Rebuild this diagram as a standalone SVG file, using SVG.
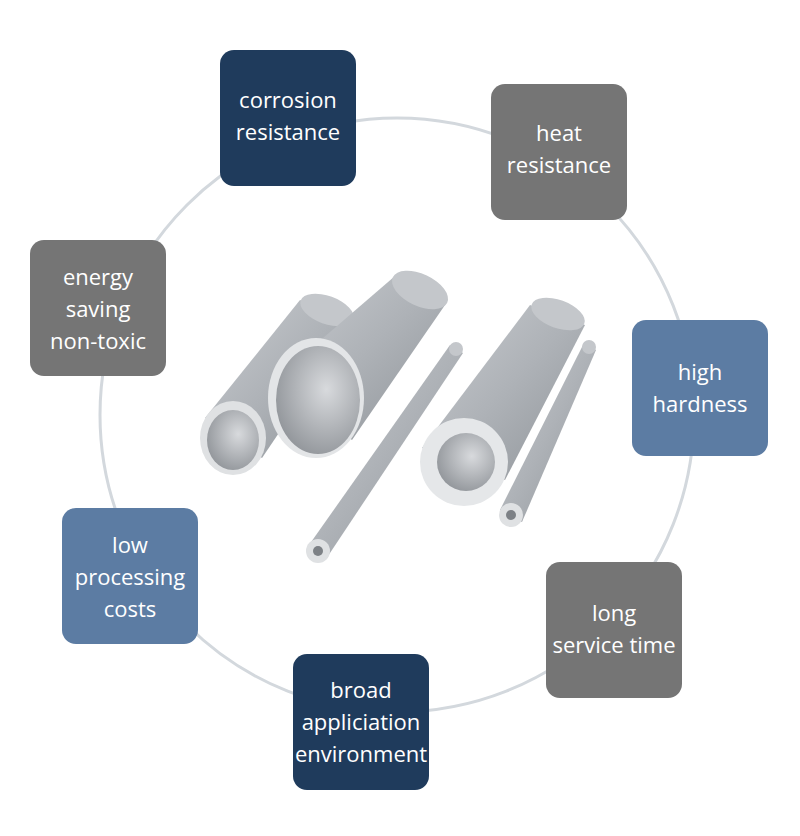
<svg xmlns="http://www.w3.org/2000/svg" width="800" height="836" viewBox="0 0 800 836">
<style>
.t{font-family:"Open Sans","Liberation Sans",sans-serif;font-size:22px;font-weight:500;fill:#fff;text-anchor:middle}
.navy{fill:#1f3b5c}.gray{fill:#757575}.blue{fill:#5c7ca3}
</style>
<defs>
<linearGradient id="body" x1="0" y1="0" x2="1" y2="1">
<stop offset="0" stop-color="#c9ccd0"/><stop offset="0.5" stop-color="#aeb2b7"/><stop offset="1" stop-color="#8e9398"/></linearGradient>
<radialGradient id="inner" cx="0.6" cy="0.4" r="0.7">
<stop offset="0" stop-color="#d8dadd"/><stop offset="1" stop-color="#8d9196"/></radialGradient>
</defs>
<rect width="800" height="836" fill="#fff"/>
<g id="connectors">
<circle cx="397" cy="415" r="297" fill="none" stroke="#d3d8dd" stroke-width="3"/>
</g>
<g id="pipes">
<polygon points="205,418 300,300 355,320 262,458" fill="url(#body)"/>
<ellipse cx="327" cy="310" rx="28" ry="14" transform="rotate(20 327 310)" fill="#c4c7cb"/>
<ellipse cx="233" cy="438" rx="33" ry="37" fill="#dfe1e3"/>
<ellipse cx="233" cy="440" rx="26" ry="30" fill="url(#inner)"/>
<polygon points="272,382 395,276 445,305 352,440" fill="url(#body)"/>
<ellipse cx="420" cy="290" rx="30" ry="16" transform="rotate(25 420 290)" fill="#c4c7cb"/>
<ellipse cx="316" cy="398" rx="48" ry="60" fill="#e3e5e7"/>
<ellipse cx="318" cy="400" rx="42" ry="54" fill="url(#inner)"/>
<polygon points="309,545 450,345 463,353 328,556" fill="url(#body)"/>
<circle cx="456" cy="349" r="7" fill="#c4c7cb"/>
<circle cx="318" cy="551" r="12" fill="#dfe1e3"/>
<circle cx="318" cy="551" r="5" fill="#7d8186"/>
<polygon points="422,448 530,305 585,325 505,480" fill="url(#body)"/>
<ellipse cx="558" cy="314" rx="28" ry="14" transform="rotate(20 558 314)" fill="#c4c7cb"/>
<circle cx="464" cy="462" r="44" fill="#e5e7e9"/>
<circle cx="466" cy="462" r="29" fill="url(#inner)"/>
<polygon points="500,510 583,345 596,350 522,522" fill="url(#body)"/>
<circle cx="589" cy="347" r="7" fill="#c4c7cb"/>
<circle cx="511" cy="515" r="12" fill="#dfe1e3"/>
<circle cx="511" cy="515" r="5" fill="#7d8186"/>
</g>
<g id="corrosion"><rect class="navy" x="220" y="50" width="136" height="136" rx="14"/>
<text class="t" x="288" y="108">corrosion</text><text class="t" x="288" y="140">resistance</text></g>
<g id="heat"><rect class="gray" x="491" y="84" width="136" height="136" rx="14"/>
<text class="t" x="559" y="141">heat</text><text class="t" x="559" y="173">resistance</text></g>
<g id="hardness"><rect class="blue" x="632" y="320" width="136" height="136" rx="14"/>
<text class="t" x="700" y="380">high</text><text class="t" x="700" y="412">hardness</text></g>
<g id="service"><rect class="gray" x="546" y="562" width="136" height="136" rx="14"/>
<text class="t" x="614" y="621">long</text><text class="t" x="614" y="653">service time</text></g>
<g id="broad"><rect class="navy" x="293" y="654" width="136" height="136" rx="14"/>
<text class="t" x="361" y="698">broad</text><text class="t" x="361" y="730">appliciation</text><text class="t" x="361" y="762">environment</text></g>
<g id="costs"><rect class="blue" x="62" y="508" width="136" height="136" rx="14"/>
<text class="t" x="130" y="553">low</text><text class="t" x="130" y="585">processing</text><text class="t" x="130" y="617">costs</text></g>
<g id="energy"><rect class="gray" x="30" y="240" width="136" height="136" rx="14"/>
<text class="t" x="98" y="285">energy</text><text class="t" x="98" y="317">saving</text><text class="t" x="98" y="349">non-toxic</text></g>
</svg>
